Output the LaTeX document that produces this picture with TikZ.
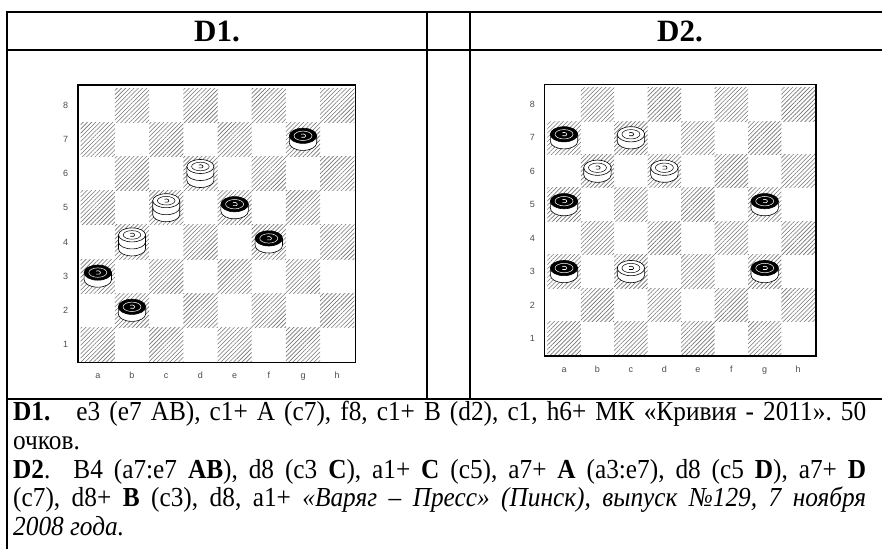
\documentclass[tikz,border=0pt]{standalone}
\usepackage{fontspec}
\setmainfont{Liberation Serif}
\newfontfamily\notesfont{Liberation Serif}[FakeStretch=0.92]
\newfontfamily\boardfont{Liberation Sans}
\usetikzlibrary{patterns.meta}

\tikzset{
  table line/.style={line width=2pt},
  dark field/.style={pattern={Lines[angle=45,distance=3pt,line width=0.6pt]},pattern color=black!55},
  board frame/.style={line width=1.6pt},
  board label/.style={font=\boardfont\fontsize{9}{9}\selectfont,text=black!70,inner sep=0pt},
  head label/.style={font=\fontsize{31}{31}\selectfont\bfseries,inner sep=0pt},
  notes/.style={text width=853pt,inner sep=0pt,align=justify,font=\notesfont\fontsize{27.5}{28.75}\selectfont},
  piece line/.style={line width=0.6pt},
}

% board geometry: left, top, field size
\newcommand{\setboard}[3]{\def\bx{#1}\def\by{#2}\def\bs{#3}}

\newcommand{\drawboard}{%
  \foreach \col [count=\i] in {a,b,c,d,e,f,g,h} {
    \foreach \row in {1,...,8} {
      \pgfmathtruncatemacro{\odd}{mod(\i+\row,2)}
      \ifnum\odd=0
        \fill[dark field] ({\bx+(\i-1)*\bs},{\by+(8-\row)*\bs}) rectangle ++(\bs,\bs);
      \fi
    }
    \node[board label,anchor=base] (file-\col) at ({\bx+(\i-0.5)*\bs},{\by+8*\bs+17}) {\col};
  }
  \foreach \row in {1,...,8}
    \node[board label] (rank-\row) at ({\bx-15},{\by+(8.5-\row)*\bs}) {\row};
  \draw[board frame] ({\bx-3},{\by-3}) rectangle ({\bx+8*\bs+1},{\by+8*\bs+1});
}

% single man: file, rank, top colour, ring colour
\newcommand{\man}[4]{%
  \begin{scope}[shift={({\bx+(#1-0.5)*\bs},{\by+(8.5-#2)*\bs})}]
    \filldraw[piece line,fill=white] (-13.7,-3.5) -- (-13.7,3.5) arc[start angle=180,end angle=0,x radius=13.7,y radius=7.6] -- (13.7,-3.5) -- cycle;
    \filldraw[piece line,fill=#3] (0,-3.5) ellipse[x radius=13.7,y radius=7.6];
    \draw[#4,line width=0.5pt] (0,-3.5) ellipse[x radius=9,y radius=4.7];
    \draw[#4,line width=0.6pt] (0,-3.5) ++(-130:2.7 and 1.9) arc[start angle=-130,end angle=130,x radius=2.7,y radius=1.9];
  \end{scope}}

% stacked king: file, rank, top colour, ring colour
\newcommand{\king}[4]{%
  \begin{scope}[shift={({\bx+(#1-0.5)*\bs},{\by+(8.5-#2)*\bs})}]
    \filldraw[piece line,fill=white] (-13.5,-7) -- (-13.5,7) arc[start angle=180,end angle=0,x radius=13.5,y radius=7] -- (13.5,-7) -- cycle;
    \draw[piece line] (-13.5,0) arc[start angle=180,end angle=0,x radius=13.5,y radius=7];
    \filldraw[piece line,fill=#3] (0,-7) ellipse[x radius=13.5,y radius=7];
    \draw[#4,line width=0.5pt] (0,-7) ellipse[x radius=8.8,y radius=4.3];
    \draw[#4,line width=0.6pt] (0,-7) ++(-130:2.6 and 1.8) arc[start angle=-130,end angle=130,x radius=2.6,y radius=1.8];
  \end{scope}}

\begin{document}
\begin{tikzpicture}[x=1pt,y=-1pt]
\useasboundingbox (0,0) rectangle (882,549);

% table
\draw[table line] (6,12) -- (882,12);
\draw[table line] (6,50) -- (882,50);
\draw[table line] (6,399) -- (882,399);
\draw[table line] (7,11) -- (7,549);
\draw[table line] (427,11) -- (427,399);
\draw[table line] (470,11) -- (470,399);

\node[head label] (head-d1) at (217,31.5) {D1.};
\node[head label] (head-d2) at (680,31.5) {D2.};

% diagram D1
\begin{scope}
\setboard{80.7}{88}{34.2}
\drawboard
\foreach \f/\r in {1/3,2/2,5/5,6/4,7/7}
  \man{\f}{\r}{black}{white};
\foreach \f/\r in {2/4,3/5,4/6}
  \king{\f}{\r}{white}{black};
\end{scope}

% diagram D2
\begin{scope}
\setboard{547.3}{87.6}{33.45}
\drawboard
\foreach \f/\r in {1/7,1/5,1/3,7/5,7/3}
  \man{\f}{\r}{black}{white};
\foreach \f/\r in {3/7,2/6,4/6,3/3}
  \man{\f}{\r}{white}{black};
\end{scope}

% solutions
\node[notes,anchor=north west] (solutions) at (13,401) {%
\tolerance=10000\hyphenpenalty=10000\emergencystretch=0pt\frenchspacing
\textbf{D1.}\hspace{26pt}e3 (e7 AB), c1+ A (c7), f8, c1+ B (d2), c1, h6+ МК «Кривия - 2011». 50\linebreak
очков.\par
\textbf{D2}.\hspace{23pt}B4 (a7:e7 \textbf{AB}), d8 (c3 \textbf{C}), a1+ \textbf{C} (c5), a7+ \textbf{A} (a3:e7), d8 (c5 \textbf{D}), a7+ \textbf{D}\linebreak
(c7), d8+ \textbf{B} (c3), d8, a1+ \textit{«Варяг – Пресс» (Пинск), выпуск №129, 7~ноября\linebreak
2008 года.}\par};

\end{tikzpicture}
\end{document}
